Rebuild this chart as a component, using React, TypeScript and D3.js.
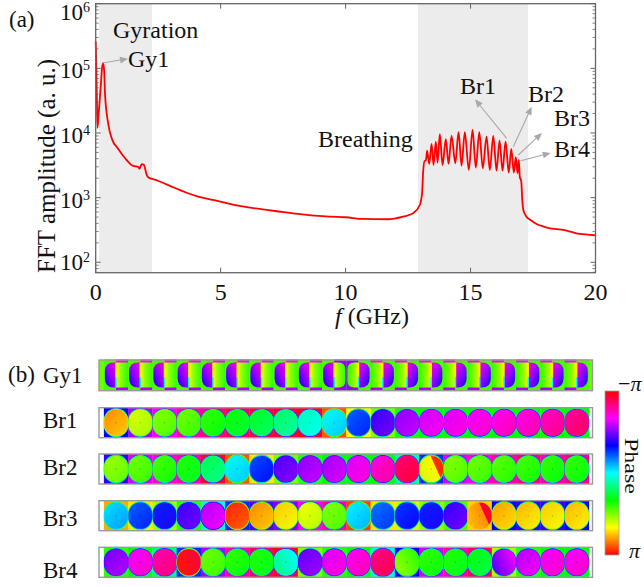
import React from "react";
import * as d3 from "d3";

// ---- panel (a) data: spectrum ----
const freqGHz = [0,0.02,0.05,0.07,0.12,0.2,0.26,0.3,0.34,0.37,0.5,0.64,0.72,0.84,1.17,1.5,1.7,1.75,1.84,1.93,2.04,2.1,2.4,2.84,3.2,3.64,4.1,4.7,5.2,5.8,6.3,6.84,7.4,7.9,8.4,8.9,9.4,10,10.7,11.7,12.3,12.7,12.97,13.06,13.1,13.16,13.21,13.265,13.345,13.44,13.52,13.61,13.68,13.77,13.88,14.01,14.12,14.24,14.39,14.52,14.64,14.77,14.93,15.08,15.21,15.35,15.49,15.64,15.77,15.91,16.04,16.16,16.28,16.4,16.53,16.63,16.73,16.81,16.88,16.93,16.97,17.03,17.07,17.11,17.24,17.4,17.64,17.9,18.17,18.45,18.7,19,19.24,19.6,20];
const amplitude = [260000,120000,30000,12000,20000,52000,105000,120000,90000,42000,14000,8300,7000,6100,4100,3100,3000,2800,3300,3200,2250,2070,1880,1600,1397,1190,1038,920,830,741,690,645,605,572,545,521,508,497,468,463,508,572,770,1170,2390,3700,3750,5350,3320,6770,3200,7360,3480,9570,3200,8010,3320,9120,3400,10300,3130,10300,2690,11200,2920,10300,2850,8810,2690,9020,2620,7640,2620,7360,2440,5670,2440,4220,2380,3830,2120,1770,920,650,508,450,392,360,336,325,316,297,280,270,262];
const shadedBands = [[0.14,2.25],[12.9,17.3]];
const xTicks = [0,5,10,15,20];
const yExponents = [2,3,4,5,6];

// ---- panel (b) data: phase in degrees for the 20 disks ----
const rowNames = ["Br1","Br2","Br3","Br4"];
const discBr1 = [140,105,85,80,65,55,45,30,10,-5,-45,-80,-100,-115,-120,-125,-130,-132,-140,-150];
const edgeBr1 = [-60,-100,-120,-140,-150,-160,-165,-170,-175,160,120,90,65,60,60,60,60,60,60,60];
const discBr2 = [90,80,70,60,35,-5,-50,-85,-100,-105,-120,-135,-160,110,85,80,75,70,65,65];
const edgeBr2 = [-70,-110,-130,-140,-170,160,125,90,70,60,60,60,20,-50,-110,-130,-140,-150,-140,-150];
const discBr3 = [-15,-45,-60,-80,-110,165,140,125,110,85,-10,-40,-55,-60,-80,135,135,130,125,130];
const edgeBr3 = [140,125,100,70,10,-50,-80,-90,-120,-140,165,125,110,95,80,130,-60,-70,-70,-60];
const discBr4 = [-95,-125,-145,175,80,65,60,30,-90,-120,-130,-155,95,65,60,50,-80,-110,-125,-125];
const edgeBr4 = [70,60,30,-50,-100,-140,-160,-170,90,70,60,10,-60,-110,-140,-160,100,70,60,60];
const splitBr2: Record<number,number> = {13:170};
const splitBr3: Record<number,number> = {15:-170};
const splitBr4: Record<number,number> = {3:-165,7:0,12:70,16:-120};
const gyPurple = -95;
const gyLime = 85;
const gyFlipFrom = 10; // disks from here on have the two halves swapped
const gyLensCells = [[9,1],[10,0]];

const rows = [
  {disc:discBr1,edge:edgeBr1,split:{} as Record<number,number>},
  {disc:discBr2,edge:edgeBr2,split:splitBr2},
  {disc:discBr3,edge:edgeBr3,split:splitBr3},
  {disc:discBr4,edge:edgeBr4,split:splitBr4},
];

const FONT = "'Liberation Serif','Times New Roman',serif";
const x = d3.scaleLinear().domain([0,20]).range([95.7,595.5]);
const y = d3.scaleLog().domain([69,1e6]).range([272.7,3.7]);
const hueOf = d3.scaleLinear().domain([-180,180]).range([360,0]);
const col = (p:number) => d3.hsl(hueOf(Math.max(-180,Math.min(180,p))),1,0.5).formatHex();

const line = d3.line<number>().x((_,i)=>x(freqGHz[i])).y(d=>y(d)).curve(d3.curveMonotoneX);

const stripLeft = 99, stripRight = 592.5;
const cellX = d3.scaleLinear().domain([0,19]).range([116,576.7]);
const cellW = cellX(1)-cellX(0);
const rowTops = [407.7,454,500.7,547.3];
const stripH = 30;
const gray = "#9a9a9a";
const axisCol = "#666666";

function Arrow({x1,y1,x2,y2}:{x1:number;y1:number;x2:number;y2:number}) {
  const a = Math.atan2(y2-y1,x2-x1), L = 8, W = 3.4;
  const bx = x2-L*Math.cos(a), by = y2-L*Math.sin(a);
  const px = -Math.sin(a)*W, py = Math.cos(a)*W;
  return <g>
    <line x1={x1} y1={y1} x2={bx} y2={by} stroke="#a8a8a8" strokeWidth={1.1}/>
    <polygon points={`${x2},${y2} ${bx+px},${by+py} ${bx-px},${by-py}`} fill="#a8a8a8"/>
  </g>;
}

function Disk({id,cx,top,disc,edge,split}:{id:string;cx:number;top:number;disc:number;edge:number;split?:number}) {
  const mix = d3.interpolateNumber(edge,disc);
  const left = cx-cellW/2;
  const hasSplit = split!==undefined;
  const diff = hasSplit?Math.abs(split!-disc):0;
  const smooth = diff<50||diff>310;
  return <g>
    <defs>
      <linearGradient id={id} x1="0" y1={hasSplit?"0.75":"0"} x2="1" y2={hasSplit?"0.25":"1"}>
        {hasSplit ? (smooth ? <>
          <stop offset="0" stopColor={col(disc)}/>
          <stop offset="1" stopColor={col(split!)}/>
        </> : <>
          <stop offset="0" stopColor={col(disc)}/>
          <stop offset="0.66" stopColor={col(disc+12)}/>
          <stop offset="0.7" stopColor={col(split!)}/>
          <stop offset="1" stopColor={col(split!)}/>
        </>) : <>
          <stop offset="0" stopColor={col(disc+8)}/>
          <stop offset="1" stopColor={col(disc-8)}/>
        </>}
      </linearGradient>
    </defs>
    <rect x={left} y={top} width={cellW+0.3} height={stripH} fill={col(edge)}/>
    <rect x={left} y={top+0.5} width={cellW+0.3} height={stripH-1} rx={12.5} fill={col(mix(0.3))}/>
    <rect x={left} y={top+1} width={cellW+0.2} height={stripH-2} rx={12} fill={col(mix(0.6))}/>
    <rect x={left+0.1} y={top+1.5} width={cellW-0.1} height={stripH-3} rx={12} fill={col(mix(0.85))}/>
    <rect x={left+0.4} y={top+1.9} width={cellW-0.7} height={stripH-3.8} rx={11.5} fill={`url(#${id})`}/>
    <circle cx={cx} cy={top+stripH/2} r={0.7} fill="#000" opacity={0.25}/>
  </g>;
}

function halfPath(x0:number,x1:number,t:number,b:number,r:number,outerLeft:boolean) {
  const xo = outerLeft?x0:x1, xi = outerLeft?x1:x0, s = outerLeft?1:-1;
  return `M${xi},${t}L${xo+s*r},${t}Q${xo},${t} ${xo},${t+r}L${xo},${b-r}Q${xo},${b} ${xo+s*r},${b}L${xi},${b}Z`;
}

function GyCell({i,top}:{i:number;top:number}) {
  const cx = cellX(i);
  const flip = i>=gyFlipFrom;
  const phases = flip?[gyLime,gyPurple]:[gyPurple,gyLime];
  const t = top+2.5, b = top+stripH-2.5;
  const bounds = [[cx-cellW/2,cx],[cx,cx+cellW/2]];
  const id = `gy${i}`, idL = `gl${i}`;
  return <g>
    <defs>
      <linearGradient id={id} x1={flip?"1":"0"} y1="1" x2={flip?"0":"1"} y2="0">
        <stop offset="0" stopColor={col(-60)}/>
        <stop offset="0.5" stopColor={col(-95)}/>
        <stop offset="1" stopColor={col(-130)}/>
      </linearGradient>
      <linearGradient id={idL} x1={flip?"1":"0"} y1="0" x2={flip?"0":"1"} y2="0">
        <stop offset="0" stopColor={col(120)}/>
        <stop offset="0.35" stopColor={col(gyLime+10)}/>
        <stop offset="1" stopColor={col(gyLime-15)}/>
      </linearGradient>
    </defs>
    {phases.map((p,h)=>{
      const lens = gyLensCells.some(c=>c[0]===i&&c[1]===h);
      const [x0,x1] = bounds[h];
      if (p===gyLime) return <g key={h}>
        <rect x={x0} y={top-0.5} width={x1-x0} height={stripH+1} fill={lens?col(gyPurple):`url(#${idL})`}/>
        {lens
          ? <path d={halfPath(h===0?x0+1:x0,h===0?x1:x1-1,t,b,7,h===0)} fill={`url(#${idL})`}/>
          : <>
            <rect x={x0} y={top-0.5} width={x1-x0} height={3} fill={col(gyPurple-25)}/>
            <rect x={x0} y={top+stripH-2.5} width={x1-x0} height={3.4} fill={col(gyPurple-5)}/>
          </>}
      </g>;
      return <g key={h}>
        <rect x={x0} y={top-0.5} width={x1-x0} height={stripH+1} fill={col(gyLime-8)}/>
        <path d={halfPath(h===0?x0+1:x0,h===0?x1:x1-1,t,b,9,h===0)} fill={`url(#${id})`}/>
      </g>;
    })}
    <line x1={cx} y1={top+3} x2={cx} y2={top+stripH/2+2} stroke={col(125)} strokeWidth={1.5}/>
    <line x1={cx} y1={top+stripH/2+2} x2={cx} y2={top+stripH-2.5} stroke={col(0)} strokeWidth={1.5}/>
  </g>;
}

export default function App() {
  const minor:number[] = [];
  for (let e=1;e<6;e++) for (let m=2;m<10;m++) { const v=m*10**e; if (v>=69) minor.push(v); }
  const cbStops = d3.range(-180,181,30);
  const T = {fontFamily:FONT,fontSize:23,fill:"#111"} as const;
  const yLabelY = (e:number) => e===6 ? 20 : e===2 ? y(100)+8 : y(10**e)+10;
  return <svg width={644} height={587} viewBox="0 0 644 587" style={{position:"absolute",left:0,top:0,background:"#fff"}}>
    {shadedBands.map((b,i)=><rect key={i} x={x(b[0])} y={y(1e6)} width={x(b[1])-x(b[0])} height={y(69)-y(1e6)} fill="#ececec"/>)}
    {minor.map(v=><g key={v} stroke={axisCol} strokeWidth={0.8}>
      <line x1={x(0)} x2={x(0)+3} y1={y(v)} y2={y(v)}/>
      <line x1={x(20)} x2={x(20)-3} y1={y(v)} y2={y(v)}/>
    </g>)}
    {yExponents.map(e=><g key={e} stroke={axisCol} strokeWidth={1}>
      <line x1={x(0)} x2={x(0)+5} y1={y(10**e)} y2={y(10**e)}/>
      <line x1={x(20)} x2={x(20)-5} y1={y(10**e)} y2={y(10**e)}/>
    </g>)}
    {xTicks.map(t=><g key={t} stroke={axisCol} strokeWidth={1}>
      <line x1={x(t)} x2={x(t)} y1={y(69)} y2={y(69)-5}/>
      <line x1={x(t)} x2={x(t)} y1={y(1e6)} y2={y(1e6)+5}/>
    </g>)}
    <path d={line(amplitude)!} fill="none" stroke="#ff0000" strokeWidth={1.8} strokeLinejoin="round"/>
    <rect x={x(0)} y={y(1e6)} width={x(20)-x(0)} height={y(69)-y(1e6)} fill="none" stroke={axisCol} strokeWidth={1.3}/>
    {xTicks.map(t=><text key={t} x={x(t)} y={300} textAnchor="middle" {...T} fontSize={24}>{t}</text>)}
    {yExponents.map(e=><text key={e} x={60} y={yLabelY(e)} {...T}>10<tspan fontSize={14} dy={-8}>{e}</tspan></text>)}
    <text transform="translate(55,273) rotate(-90)" {...T} fontSize={25}>FFT amplitude (a. u.)</text>
    <text x={335} y={324} {...T} fontSize={24}><tspan fontStyle="italic">f</tspan> (GHz)</text>
    <text x={9} y={27} {...T}>(a)</text>
    <text x={113} y={38} {...T} fontSize={24}>Gyration</text>
    <text x={128} y={67} {...T} fontSize={24}>Gy1</text>
    <text x={318} y={147} {...T} fontSize={24}>Breathing</text>
    <text x={460} y={94} {...T} fontSize={24}>Br1</text>
    <text x={528} y={102} {...T} fontSize={24}>Br2</text>
    <text x={554} y={126} {...T} fontSize={24}>Br3</text>
    <text x={554} y={157} {...T} fontSize={24}>Br4</text>
    <Arrow x1={103} y1={63} x2={128} y2={58.7}/>
    <Arrow x1={506.7} y1={138.3} x2={475} y2={99.3}/>
    <Arrow x1={513.3} y1={146.7} x2={531.7} y2={106.7}/>
    <Arrow x1={518.3} y1={155} x2={542} y2={133}/>
    <Arrow x1={520.7} y1={160.7} x2={550.7} y2={153}/>

    <text x={8} y={382} {...T}>(b)</text>
    <text x={43} y={383} {...T}>Gy1</text>
    {rowNames.map((n,i)=><text key={n} x={43} y={[428,475,526,578][i]} {...T}>{n}</text>)}

    <g>
      <rect x={stripLeft} y={360} width={stripRight-stripLeft} height={stripH} fill={col(gyLime)}/>
      {d3.range(20).map(i=><GyCell key={i} i={i} top={360}/>)}
      <rect x={stripLeft} y={360} width={stripRight-stripLeft} height={stripH+0.7} fill="none" stroke={gray} strokeWidth={1.4}/>
    </g>
    {rows.map((r,k)=><g key={k}>
      <clipPath id={`clip${k}`}><rect x={stripLeft} y={rowTops[k]} width={stripRight-stripLeft} height={stripH}/></clipPath>
      <g clipPath={`url(#clip${k})`}>
        {r.disc.map((d,i)=><Disk key={i} id={`d${k}_${i}`} cx={cellX(i)} top={rowTops[k]} disc={d} edge={r.edge[i]} split={r.split[i]}/>)}
      </g>
      <rect x={stripLeft} y={rowTops[k]} width={stripRight-stripLeft} height={stripH} fill="none" stroke={gray} strokeWidth={1.4}/>
    </g>)}

    <defs>
      <linearGradient id="cb" x1="0" y1="0" x2="0" y2="1">
        {cbStops.map(p=><stop key={p} offset={(p+180)/360} stopColor={col(p)}/>)}
      </linearGradient>
    </defs>
    <rect x={605} y={391} width={14} height={164} fill="url(#cb)" stroke="#a0a0a0" strokeWidth={0.8}/>
    <text x={618} y={391} {...T} fontSize={22}>−<tspan fontStyle="italic">π</tspan></text>
    <text x={629} y={558} {...T} fontSize={22} fontStyle="italic">π</text>
    <text transform="translate(625,438) rotate(90) scale(1,0.75)" {...T} fontSize={24}>Phase</text>
  </svg>;
}
